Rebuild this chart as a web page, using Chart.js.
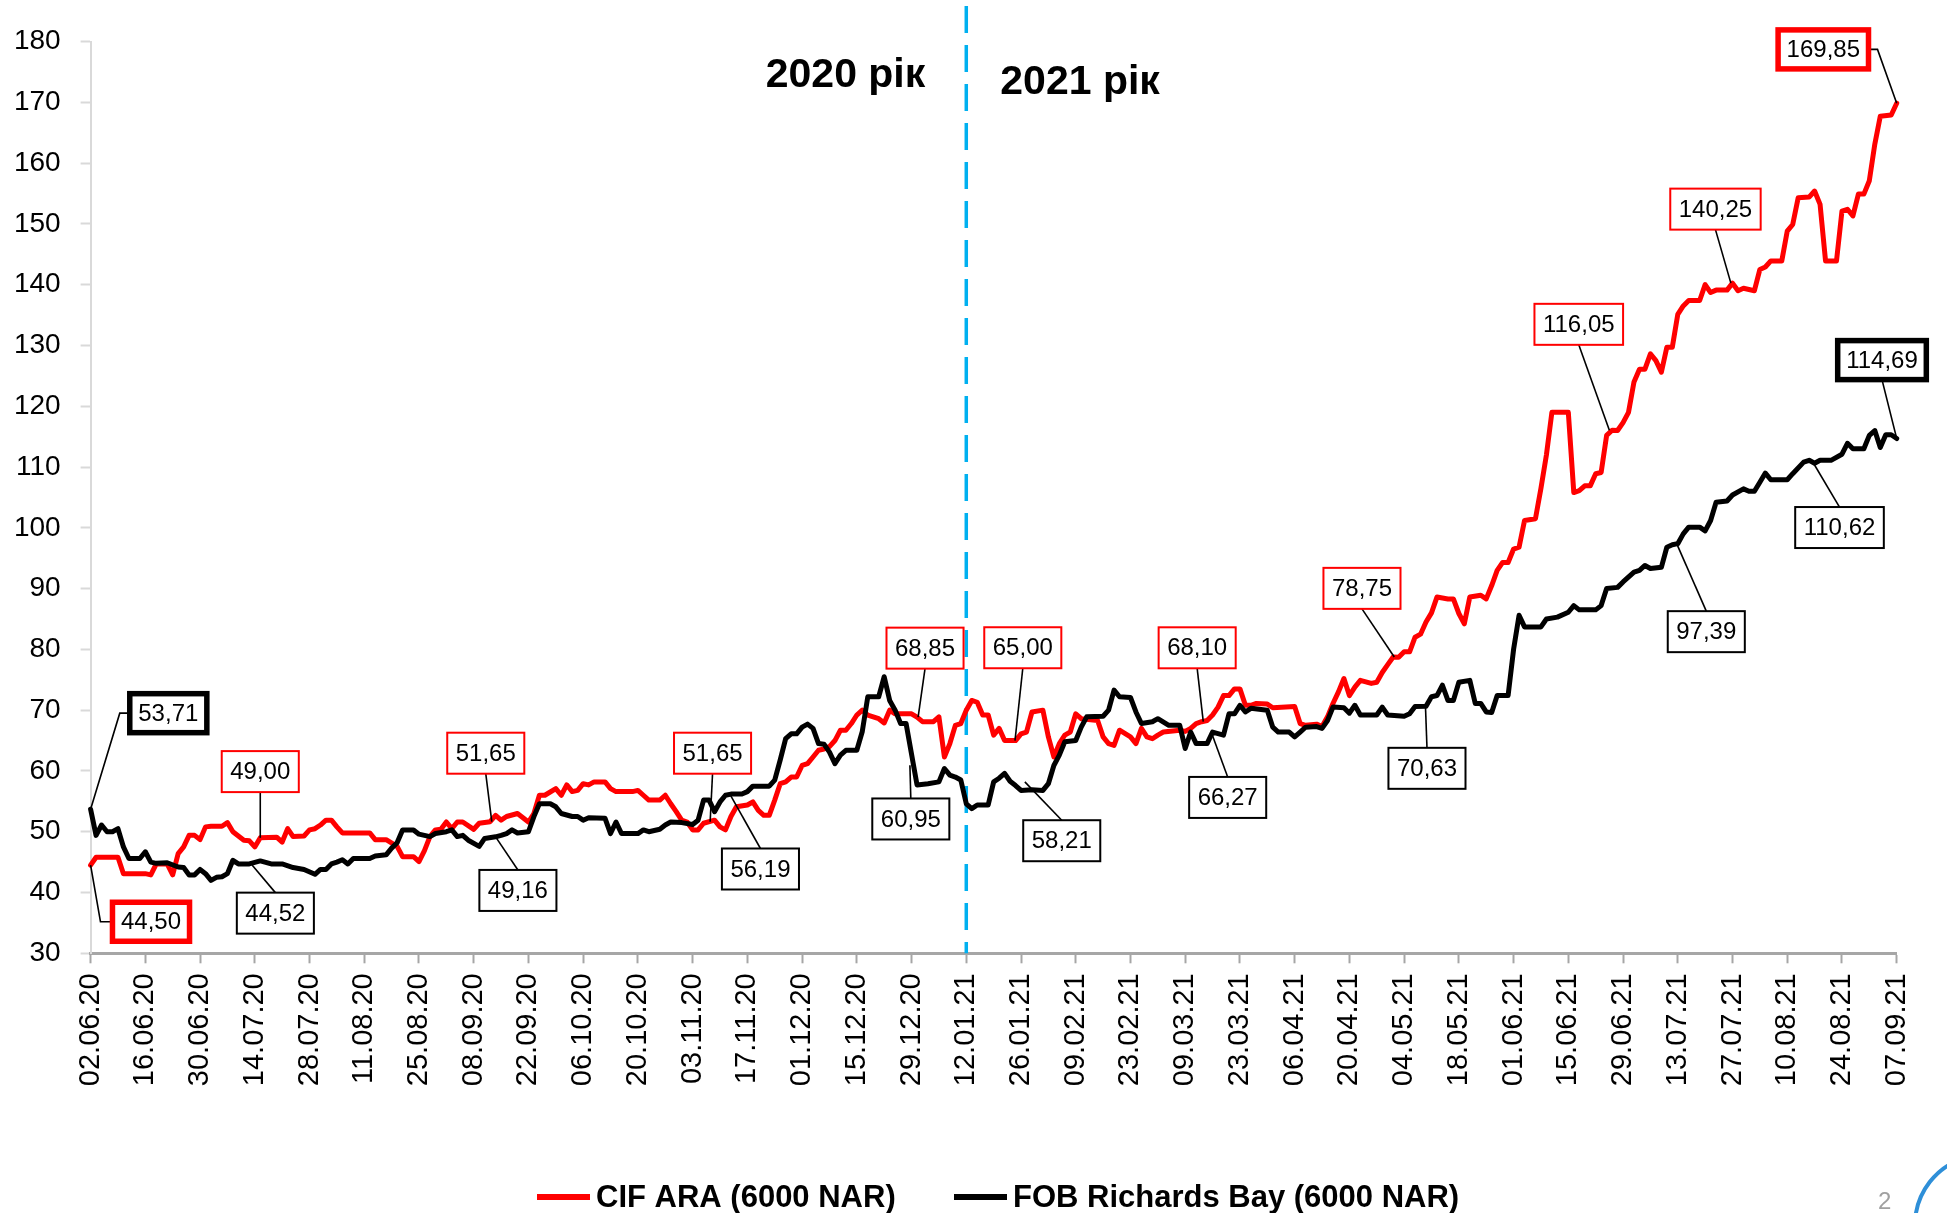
<!DOCTYPE html>
<html>
<head>
<meta charset="utf-8">
<script src="https://cdn.jsdelivr.net/npm/chart.js@4.4.1/dist/chart.umd.min.js"></script>
<style>
html,body{margin:0;padding:0;background:#fff;overflow:hidden}
#wrap{position:relative;width:1947px;height:1213px}
</style>
</head>
<body>
<div id="wrap"><canvas id="c" width="1947" height="1213"></canvas></div>
<script>
// ---------- DATA ----------
const tickLabels = ['02.06.20','16.06.20','30.06.20','14.07.20','28.07.20','11.08.20','25.08.20','08.09.20','22.09.20','06.10.20','20.10.20','03.11.20','17.11.20','01.12.20','15.12.20','29.12.20','12.01.21','26.01.21','09.02.21','23.02.21','09.03.21','23.03.21','06.04.21','20.04.21','04.05.21','18.05.21','01.06.21','15.06.21','29.06.21','13.07.21','27.07.21','10.08.21','24.08.21','07.09.21'];
const seriesNames = ['CIF ARA (6000 NAR)', 'FOB Richards Bay (6000 NAR)'];
const yearLabels = ['2020 рік', '2021 рік'];

// x = trading-day index counted from 02.06.20 (10 trading days per axis label)
const araDays = [0,1,5,6,10,11,12,14,15,16,17,18,19,20,21,22,24,25,26,28,29,30,31,34,35,36,37,39,40,41,42,43,44,45,46,51,52,54,56,57,59,60,61,62,63,64,65,66,67,68,70,71,73,74,75,76,78,80,81,82,83,85,86,87,88,89,90,91,92,94,95,96,99,100,101,102,104,105,106,107,108,109,110,111,112,114,115,116,117,118,120,121,122,123,124,125,126,127,128,129,130,131,132,133,134,135,136,137,138,139,140,141,142,144,145,146,147,150,151,152,154,155,156,157,158,159,160,161,162,163,164,165,166,167,169,170,171,172,174,175,176,177,178,179,180,181,184,185,186,187,188,190,191,192,193,194,195,196,199,200,201,202,203,204,205,206,207,208,209,210,211,212,213,215,216,220,221,222,224,225,226,227,228,229,230,231,232,234,235,236,237,238,239,240,241,242,243,244,245,246,248,249,250,251,252,254,255,256,257,258,259,260,261,262,264,265,266,267,270,271,272,273,274,275,276,277,278,279,280,281,282,283,284,285,286,287,288,289,290,291,292,294,295,296,297,299,300,301,302,304,305,306,307,309,310,311,312,314,315,316,317,319,320,321,322,323,324,325,326,327,329,330];
const araPrices = [44.5,45.8,45.8,43.1,43.1,42.9,44.7,44.7,42.9,46.4,47.5,49.4,49.4,48.7,50.8,50.9,50.9,51.5,50.0,48.6,48.5,47.5,49.0,49.1,48.3,50.5,49.2,49.3,50.3,50.5,51.1,51.9,51.9,50.8,49.8,49.8,48.7,48.7,47.6,45.9,45.9,45.1,46.9,49.2,50.3,50.4,51.6,50.5,51.6,51.6,50.4,51.4,51.65,52.7,51.9,52.5,53.0,51.6,53.0,56.0,56.0,57.1,56.0,57.7,56.6,56.8,57.9,57.7,58.2,58.2,57.1,56.6,56.6,56.8,56.0,55.2,55.2,56.0,54.6,53.3,51.9,51.6,50.3,50.3,51.4,51.9,50.8,50.3,52.5,54.1,54.4,54.9,53.5,52.7,52.7,55.2,57.9,58.2,59.0,59.0,60.9,61.2,62.3,63.4,63.6,64.0,65.0,66.7,66.7,67.8,69.2,70.0,69.2,68.6,67.9,70.0,69.4,69.4,68.85,68.1,68.1,68.9,62.3,64.5,67.5,67.8,70.0,71.6,71.3,69.2,69.2,65.9,67.0,65.0,65.0,66.1,66.4,69.7,70.0,65.6,62.3,64.5,65.9,66.4,69.4,68.6,68.3,65.6,64.5,64.2,66.7,65.6,64.5,67.0,65.6,65.3,65.9,66.4,66.7,66.5,67.0,67.8,68.1,68.3,69.2,70.5,72.4,72.4,73.5,73.5,70.8,70.8,71.1,71.0,70.4,70.6,67.8,67.5,67.7,67.3,68.9,71.1,73.0,75.2,72.4,73.8,74.9,74.4,74.6,76.2,77.5,78.75,78.7,79.6,79.6,82.0,82.5,84.5,86.0,88.6,88.3,88.3,85.9,84.2,88.6,88.9,88.3,90.5,93.0,94.3,94.3,96.5,96.8,101.2,101.5,106.5,112.0,119.0,119.0,105.8,106.1,106.9,106.9,108.9,109.1,115.2,116.05,116.0,117.3,119.0,124.0,126.1,126.1,128.6,127.5,125.6,129.7,129.7,135.1,136.5,137.4,137.4,140.0,138.7,139.1,139.1,140.25,139.0,139.4,139.0,142.5,142.9,143.9,143.9,148.8,149.9,154.3,154.4,155.4,153.2,143.9,143.9,152.1,152.4,151.3,154.9,154.9,157.1,163.1,167.7,167.9,169.85];

const rbDays = [0,1,2,3,4,5,6,7,9,10,11,12,14,16,17,18,19,20,21,22,23,24,25,26,27,29,31,33,35,37,39,41,42,43,44,45,46,47,48,51,52,54,55,56,57,59,60,62,63,65,66,67,68,69,71,72,74,75,76,77,78,80,81,82,84,85,86,88,89,90,91,94,95,96,97,100,101,102,104,105,106,108,110,111,112,113,114,115,116,117,119,120,121,124,125,126,127,128,129,130,131,132,133,134,135,136,137,138,140,141,142,144,145,146,147,148,149,151,153,155,156,157,158,159,160,161,162,164,165,166,167,168,169,170,172,174,175,176,177,178,180,181,182,185,186,187,188,190,191,192,194,195,197,199,200,201,202,204,205,207,208,209,210,211,212,215,216,217,219,220,221,222,224,225,226,227,229,230,231,232,235,236,237,240,241,242,244,245,246,247,248,249,250,252,253,254,255,256,257,259,260,261,262,265,266,268,270,271,272,275,276,277,279,280,282,283,284,285,287,288,289,290,291,292,294,295,296,297,299,300,302,303,304,305,306,307,310,311,313,314,315,316,318,320,321,322,324,325,326,327,328,329,330];
const rbPrices = [53.71,49.4,51.1,50.0,50.0,50.5,47.5,45.6,45.6,46.7,45.0,44.8,44.9,44.2,44.1,42.9,42.9,43.8,43.1,42.0,42.5,42.6,43.1,45.3,44.7,44.7,45.2,44.7,44.7,44.1,43.8,43.0,43.8,43.8,44.7,45.0,45.4,44.7,45.6,45.6,46.0,46.2,47.3,48.2,50.3,50.3,49.6,49.2,49.7,50.0,50.3,49.2,49.4,48.6,47.6,48.9,49.16,49.4,49.7,50.3,49.8,50.0,52.5,54.6,54.6,54.1,53.0,52.5,52.5,51.9,52.3,52.2,49.7,51.6,49.7,49.7,50.3,50.0,50.4,51.1,51.6,51.5,51.2,51.9,55.2,55.2,53.3,54.9,56.0,56.19,56.2,56.6,57.5,57.5,58.5,61.8,65.3,66.1,66.1,67.2,67.7,67.0,64.5,64.4,63.1,61.2,62.6,63.4,63.4,66.5,72.2,72.2,75.5,71.6,70.0,67.8,67.8,57.7,57.9,58.2,60.4,59.3,59.0,58.5,54.6,53.8,54.4,54.4,58.2,58.8,59.6,58.3,57.6,56.8,56.9,56.8,57.9,60.9,62.6,64.8,65.0,67.2,68.9,69.0,70.0,73.3,72.2,72.1,69.7,67.8,68.1,68.6,67.5,67.5,63.7,66.4,64.5,64.5,66.4,65.9,69.4,69.4,70.8,69.7,70.3,70.0,67.2,66.4,66.4,65.6,66.4,67.2,67.3,67.0,68.3,70.5,70.4,69.5,70.8,69.2,69.2,70.5,69.2,69.0,69.4,70.6,70.63,72.2,72.4,74.1,71.6,71.6,74.6,74.9,71.1,71.1,69.7,69.6,72.4,72.4,80.0,85.6,83.7,83.7,85.0,85.3,86.1,87.2,86.5,86.5,87.2,90.0,90.2,91.1,92.7,93.0,93.8,93.3,93.5,96.8,97.2,97.39,99.0,100.1,100.1,99.5,101.2,104.2,104.4,105.4,106.4,106.0,106.0,107.5,109.0,107.9,107.9,108.9,110.8,111.1,110.62,111.1,111.1,112.1,113.9,113.0,113.0,115.2,116.0,113.2,115.3,115.3,114.69];

// labelled points: series (0 = ARA, 1 = Richards Bay), trading-day index, value
const calloutSeries = [1,0,0,1,0,1,0,1,0,1,0,1,0,1,0,1,0,1,0,1,0,1];
const calloutDays   = [0,0,31,29.5,73.3,74,113.2,116.8,151.2,149.7,168.9,170.7,203.3,204.8,238.2,243.9,277.5,289.8,299.7,314.8,330,330];
const calloutValues = [53.71,44.50,49.00,44.52,51.65,49.16,51.65,56.19,68.85,60.95,65.00,58.21,68.10,66.27,78.75,70.63,116.05,97.39,140.25,110.62,169.85,114.69];

const yearSplitDay = 160; // 12.01.21

// ---------- STYLE / LAYOUT ----------
const FONT = '"Liberation Sans Narrow","Arial Narrow","Liberation Sans",Arial,sans-serif';
const seriesColors = ['#ff0000', '#000000'];
// box centre offsets (px) from labelled point, leader attachment side, elbow length, thick border
const calloutLayout = [
  {dx:77.7, dy:-96, side:'left', elbow:10, thick:true},
  {dx:60.4, dy:56.6, side:'left', elbow:12, thick:true},
  {dx:0, dy:-66.2, side:'bottom'},
  {dx:23.3, dy:48.1, side:'top'},
  {dx:-6, dy:-68.5, side:'bottom'},
  {dx:22.3, dy:53.6, side:'top'},
  {dx:2.4, dy:-68.5, side:'bottom'},
  {dx:30.6, dy:74.9, side:'top'},
  {dx:6.9, dy:-69, side:'bottom'},
  {dx:0.9, dy:53.8, side:'top'},
  {dx:7.8, dy:-92.8, side:'bottom'},
  {dx:36.9, dy:58.9, side:'top'},
  {dx:-6.1, dy:-73.9, side:'bottom'},
  {dx:16.2, dy:64.6, side:'top'},
  {dx:-32.3, dy:-68.6, side:'bottom'},
  {dx:1.5, dy:62, side:'top'},
  {dx:-30.6, dy:-105.9, side:'bottom'},
  {dx:29.6, dy:88, side:'top'},
  {dx:-15.4, dy:-74, side:'bottom'},
  {dx:26, dy:64.3, side:'top'},
  {dx:-73.4, dy:-53.8, side:'right', elbow:9, thick:true},
  {dx:-14.7, dy:-78.4, side:'bottom', thick:true}
];

function fmt(v){ return v.toFixed(2).replace('.', ','); }

const overlay = {
  id: 'overlay',
  beforeDatasetsDraw(chart) {
    const ctx = chart.ctx, xs = chart.scales.x, ys = chart.scales.y;
    const x = xs.getPixelForValue(yearSplitDay);
    ctx.save();
    ctx.strokeStyle = '#00b0f0';
    ctx.lineWidth = 3.5;
    ctx.setLineDash([27, 12]);
    ctx.beginPath();
    ctx.moveTo(x, 6);
    ctx.lineTo(x, ys.bottom);
    ctx.stroke();
    ctx.restore();
  },
  afterDraw(chart) {
    const ctx = chart.ctx, xs = chart.scales.x, ys = chart.scales.y;
    ctx.save();
    // year captions
    const xl = xs.getPixelForValue(yearSplitDay);
    ctx.font = 'bold 41px ' + FONT;
    ctx.fillStyle = '#000';
    ctx.textBaseline = 'middle';
    ctx.textAlign = 'right';
    ctx.fillText(yearLabels[0], xl - 41, 76);
    ctx.textAlign = 'left';
    ctx.fillText(yearLabels[1], xl + 34, 83);

    // callouts
    ctx.font = '24px ' + FONT;
    for (let i = 0; i < calloutValues.length; i++) {
      const L = calloutLayout[i];
      const px = xs.getPixelForValue(calloutDays[i]);
      const py = ys.getPixelForValue(calloutValues[i]);
      const text = fmt(calloutValues[i]);
      const tw = ctx.measureText(text).width;
      const w = tw + 17, h = L.thick ? 39 : 41;
      const cx = px + L.dx, cy = py + L.dy;
      ctx.setLineDash([]);
      ctx.strokeStyle = '#000';
      ctx.lineWidth = 1.6;
      ctx.beginPath();
      if (L.side === 'top') { ctx.moveTo(cx, cy - h/2); ctx.lineTo(px, py); }
      else if (L.side === 'bottom') { ctx.moveTo(cx, cy + h/2); ctx.lineTo(px, py); }
      else if (L.side === 'left') { ctx.moveTo(cx - w/2, cy); ctx.lineTo(cx - w/2 - L.elbow, cy); ctx.lineTo(px, py); }
      else { ctx.moveTo(cx + w/2, cy); ctx.lineTo(cx + w/2 + L.elbow, cy); ctx.lineTo(px, py); }
      ctx.stroke();
      ctx.fillStyle = '#fff';
      ctx.fillRect(cx - w/2, cy - h/2, w, h);
      ctx.strokeStyle = seriesColors[calloutSeries[i]];
      ctx.lineWidth = L.thick ? 5.5 : 2;
      ctx.strokeRect(cx - w/2, cy - h/2, w, h);
      ctx.fillStyle = '#000';
      ctx.textAlign = 'center';
      ctx.textBaseline = 'middle';
      ctx.fillText(text, cx, cy + 1);
    }

    // legend
    const legendX = [537, 954], legendY = 1197;
    ctx.font = 'bold 31px ' + FONT;
    ctx.textAlign = 'left';
    ctx.textBaseline = 'middle';
    for (let i = 0; i < seriesNames.length; i++) {
      ctx.strokeStyle = seriesColors[i];
      ctx.lineWidth = 6;
      ctx.beginPath();
      ctx.moveTo(legendX[i], legendY);
      ctx.lineTo(legendX[i] + 53, legendY);
      ctx.stroke();
      ctx.fillStyle = '#000';
      ctx.fillText(seriesNames[i], legendX[i] + 59, legendY + 1);
    }

    // page number and logo fragment
    ctx.font = '24px ' + FONT;
    ctx.fillStyle = '#a0a0a0';
    ctx.fillText('2', 1878, 1202);
    ctx.strokeStyle = '#2e8fd8';
    ctx.lineWidth = 4;
    ctx.beginPath();
    ctx.arc(1985, 1225, 70, Math.PI * 1.0, Math.PI * 1.42);
    ctx.stroke();
    ctx.restore();
  }
};

Chart.defaults.font.family = FONT;
new Chart(document.getElementById('c'), {
  type: 'line',
  data: {
    datasets: [
      { label: seriesNames[0], data: araDays.map((d, i) => ({x: d, y: araPrices[i]})),
        borderColor: seriesColors[0], backgroundColor: seriesColors[0], borderWidth: 5,
        pointRadius: 0, tension: 0, borderJoinStyle: 'round', borderCapStyle: 'round', clip: 10, order: 1 },
      { label: seriesNames[1], data: rbDays.map((d, i) => ({x: d, y: rbPrices[i]})),
        borderColor: seriesColors[1], backgroundColor: seriesColors[1], borderWidth: 5,
        pointRadius: 0, tension: 0, borderJoinStyle: 'round', borderCapStyle: 'round', clip: 10, order: 0 }
    ]
  },
  options: {
    responsive: false,
    animation: false,
    devicePixelRatio: 1,
    layout: { padding: { left: 0, right: 50.3, top: 41.5, bottom: 0 } },
    plugins: { legend: { display: false }, tooltip: { enabled: false } },
    scales: {
      x: {
        type: 'linear', min: 0, max: 330,
        afterFit(s) { s.height = 259.7; },
        ticks: {
          stepSize: 10, autoSkip: false, maxRotation: 90, minRotation: 90,
          color: '#000', font: { size: 29 }, padding: 10,
          callback: (v) => tickLabels[Math.round(v / 10)]
        },
        grid: { drawOnChartArea: false, drawTicks: true, tickLength: 10, tickColor: '#a6a6a6', tickWidth: 2 },
        border: { color: '#a6a6a6', width: 3 }
      },
      y: {
        min: 30, max: 180,
        afterFit(s) { s.width = 90.6; },
        ticks: { stepSize: 10, color: '#000', font: { size: 28 }, padding: 20 },
        grid: { drawOnChartArea: false, drawTicks: true, tickLength: 10, tickColor: '#d9d9d9', tickWidth: 2 },
        border: { color: '#d9d9d9', width: 2 }
      }
    }
  },
  plugins: [overlay]
});
</script>
</body>
</html>
